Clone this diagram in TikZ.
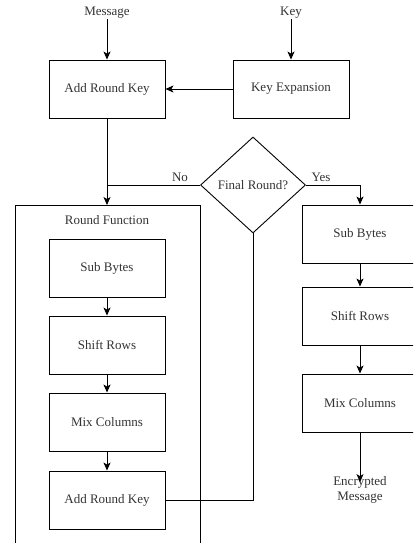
\documentclass[tikz,border=0pt]{standalone}
\usepackage{fontspec}
\setmainfont{Liberation Serif}
\usetikzlibrary{shapes.geometric,arrows.meta}

\begin{document}
\begin{tikzpicture}[x=1pt, y=-1pt,
    font=\fontsize{13}{15}\selectfont, text=black!80, line width=0.9pt,
    stage/.style={draw, minimum width=116pt, minimum height=58pt, inner sep=0pt},
    io/.style={inner sep=0pt, align=center},
    arr/.style={-{Stealth[length=8pt, width=7pt, inset=2pt]}}]
    \useasboundingbox (0,0) rectangle (413,543);
    \clip (0,0) rectangle (413,543);

    % Inputs and key schedule
    \node[io] (msg) at (107,13) {Message};
    \node[io] (key) at (291,13) {Key};
    \node[stage] (ark) at (107,89) {Add Round Key};
    \node[stage] (kexp) at (291,89) {Key Expansion};
    \draw[arr] (msg) -- (ark);
    \draw[arr] (key) -- (kexp);
    \draw[arr] (kexp) -- (ark);

    % Decision
    \node[draw, diamond, aspect=1.1, inner sep=0pt, minimum width=105pt, minimum height=96pt] (dec) at (253,185) {Final Round?};
    \node[io] (no) at (180,177) {No};
    \node[io] (yes) at (321,177) {Yes};

    % Round Function
    \node[draw, anchor=north west, minimum width=185pt, minimum height=360pt] (rf) at (15,205) {};
    \node[io] (rflbl) at (107,220) {Round Function};
    \node[stage] (sb1) at (107,268) {Sub Bytes};
    \node[stage] (sr1) at (107,345) {Shift Rows};
    \node[stage] (mc1) at (107,422) {Mix Columns};
    \node[stage] (ark2) at (107,500) {Add Round Key};
    \draw[arr] (ark) -- (ark |- rf.north);
    \draw (dec.west) -- (ark |- dec.west);
    \draw[arr] (sb1) -- (sr1);
    \draw[arr] (sr1) -- (mc1);
    \draw[arr] (mc1) -- (ark2);
    \draw (ark2.east) -| (dec.south);

    % Final round
    \node[stage] (sb2) at (360,234) {Sub Bytes};
    \node[stage] (sr2) at (360,316) {Shift Rows};
    \node[stage] (mc2) at (360,403) {Mix Columns};
    \node[io] (enc) at (360,490) {Encrypted\\Message};
    \draw[arr] (dec.east) -| (sb2);
    \draw[arr] (sb2) -- (sr2);
    \draw[arr] (sr2) -- (mc2);
    \draw[arr] (mc2) -- ([yshift=-6pt]enc.north);
\end{tikzpicture}
\end{document}
